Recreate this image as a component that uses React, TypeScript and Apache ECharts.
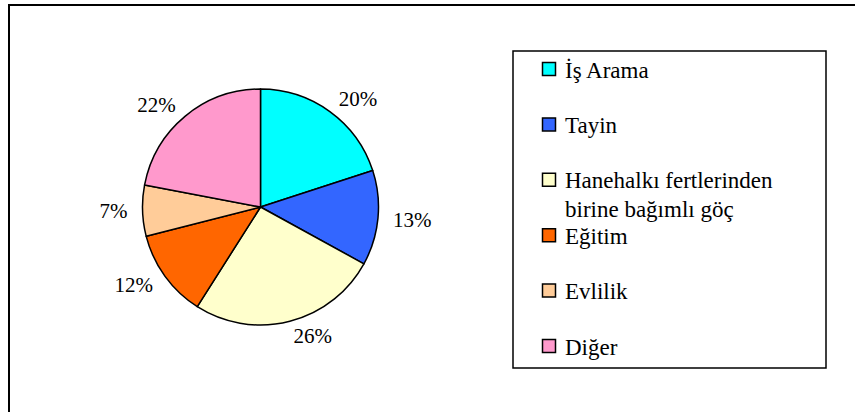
import React, { useEffect, useRef } from "react";
import * as echarts from "echarts";

const categories = [
  "İş Arama",
  "Tayin",
  "Hanehalkı fertlerinden\nbirine bağımlı göç",
  "Eğitim",
  "Evlilik",
  "Diğer",
];
const values = [20, 13, 26, 12, 7, 22];
const colors = ["#00FFFF", "#3366FF", "#FFFFCC", "#FF6600", "#FFCC99", "#FF99CC"];

const FONT = "Liberation Serif";

export default function App() {
  const ref = useRef<HTMLDivElement>(null);
  useEffect(() => {
    if (!ref.current) return;
    const chart = echarts.init(ref.current, null, { renderer: "svg" });

    const legendTop = 69;
    const legendStep = 55.4;
    const legendItems: any[] = [];
    categories.forEach((name, i) => {
      const cy = legendTop + i * legendStep;
      legendItems.push({
        type: "rect",
        shape: { x: 542.5, y: cy - 6.5, width: 13, height: 13 },
        style: { fill: colors[i], stroke: "#000", lineWidth: 1.5 },
        silent: true,
      });
      legendItems.push({
        type: "text",
        x: 565,
        y: cy - 13.5,
        style: {
          text: name,
          fontFamily: FONT,
          fontSize: 23,
          lineHeight: 29,
          fill: "#000",
          align: "left",
          verticalAlign: "top",
        },
        silent: true,
      });
    });

    chart.setOption({
      animation: false,
      backgroundColor: "#ffffff",
      color: colors,
      textStyle: { fontFamily: FONT },
      graphic: [
        {
          type: "line",
          shape: { x1: 8, y1: 5, x2: 855, y2: 5 },
          style: { stroke: "#000", lineWidth: 2 },
          silent: true,
        },
        {
          type: "line",
          shape: { x1: 9, y1: 4, x2: 9, y2: 412 },
          style: { stroke: "#000", lineWidth: 2 },
          silent: true,
        },
        {
          type: "rect",
          shape: { x: 513, y: 51, width: 313, height: 317 },
          style: { fill: "none", stroke: "#000", lineWidth: 1.5 },
          silent: true,
        },
        ...legendItems,
      ],
      series: [
        {
          type: "pie",
          center: [260.5, 207],
          radius: 118,
          startAngle: 90,
          clockwise: true,
          avoidLabelOverlap: false,
          itemStyle: { borderColor: "#000", borderWidth: 1.5 },
          label: {
            show: true,
            position: "outside",
            formatter: "{d}%",
            fontFamily: FONT,
            fontSize: 21,
            color: "#000",
            distanceToLabelLine: 0,
          },
          labelLine: { show: false, length: 15, length2: 0 },
          emphasis: { disabled: true },
          data: categories.map((name, i) => ({ name, value: values[i] })),
        },
      ],
    });
    return () => chart.dispose();
  }, []);
  return (
    <div
      ref={ref}
      style={{ position: "fixed", left: 0, top: 0, width: 855, height: 412 }}
    />
  );
}
